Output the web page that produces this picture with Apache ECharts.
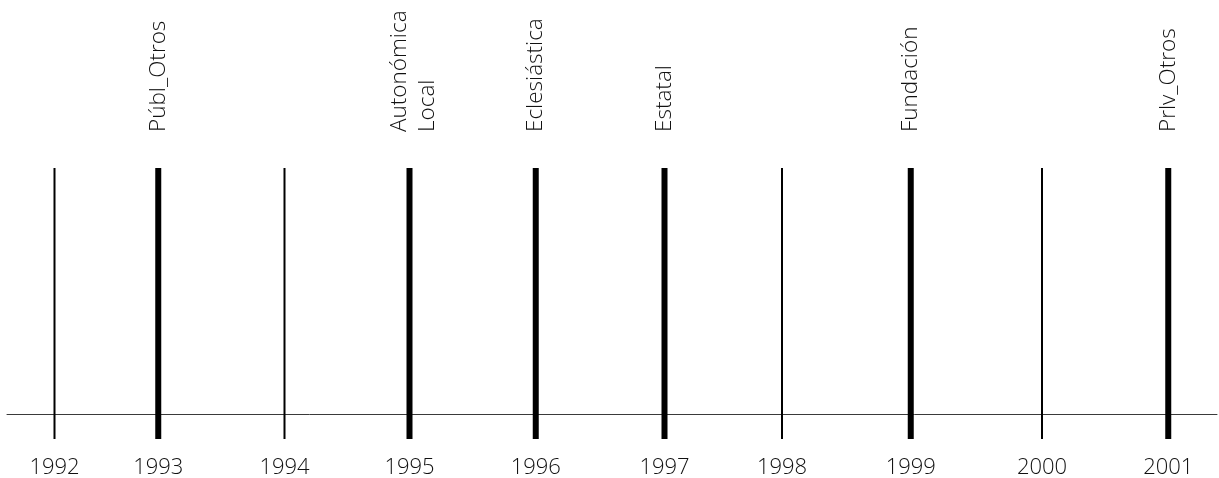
<!DOCTYPE html>
<html>
<head>
<meta charset="utf-8">
<script src="https://cdn.jsdelivr.net/npm/echarts@6/dist/echarts.min.js"></script>
<style>
html,body{margin:0;padding:0;background:#fff;}
#chart{width:1219px;height:478px;}
</style>
</head>
<body>
<div id="chart"></div>
<script>
// Year labels shown under each mark
var yearLabels = ['1992','1993','1994','1995','1996','1997','1998','1999','2000','2001'];
// Position of each mark on the timeline (decimal year)
var positions = [1992.30, 1993.13, 1994.14, 1995.14, 1996.15, 1997.18, 1998.12, 1999.15, 2000.20, 2001.21];
// Event labels (empty = plain year marker)
var eventLabels = ['', 'Públ_Otros', '', 'Autonómica\nLocal', 'Eclesiástica', 'Estatal', '', 'Fundación', '', 'Prlv_Otros'];

var FONT = '"Open Sans", Lato, sans-serif';

var data = positions.map(function (p, i) {
  return [p, i];
});

var chart = echarts.init(document.getElementById('chart'), null, {renderer: 'canvas'});
chart.setOption({
  animation: false,
  backgroundColor: '#ffffff',
  grid: {left: 7, right: 2, top: 168, bottom: 39},
  xAxis: {
    type: 'value',
    min: 1991.92,
    max: 2001.6,
    splitLine: {show: false},
    axisTick: {show: false},
    axisLabel: {show: false},
    axisLine: {show: true, onZero: true, lineStyle: {color: '#3a3a3a', width: 1}}
  },
  yAxis: {
    type: 'value',
    min: -0.1,
    max: 1,
    show: false
  },
  series: [{
    type: 'custom',
    clip: false,
    data: data,
    renderItem: function (params, api) {
      var x = api.value(0);
      var idx = api.value(1);
      var top = api.coord([x, 1]);
      var bottom = api.coord([x, -0.1]);
      var label = eventLabels[idx];
      var thick = label !== '';
      var children = [{
        type: 'line',
        shape: {x1: top[0], y1: top[1], x2: bottom[0], y2: bottom[1]},
        style: {stroke: '#000', lineWidth: thick ? 6 : 2}
      }, {
        type: 'text',
        x: bottom[0],
        y: bottom[1] + 29,
        style: {
          text: yearLabels[idx],
          fill: '#111',
          font: '300 22px ' + FONT,
          align: 'center',
          verticalAlign: 'middle'
        }
      }];
      if (thick) {
        children.push({
          type: 'text',
          x: top[0] + (label.indexOf('\n') >= 0 ? 4 : 0),
          y: top[1] - 36,
          rotation: Math.PI / 2,
          style: {
            text: label,
            fill: '#111',
            font: '300 22.5px ' + FONT,
            lineHeight: 28,
            align: 'left',
            verticalAlign: 'middle'
          }
        });
      }
      return {type: 'group', children: children};
    }
  }]
});
</script>
</body>
</html>
